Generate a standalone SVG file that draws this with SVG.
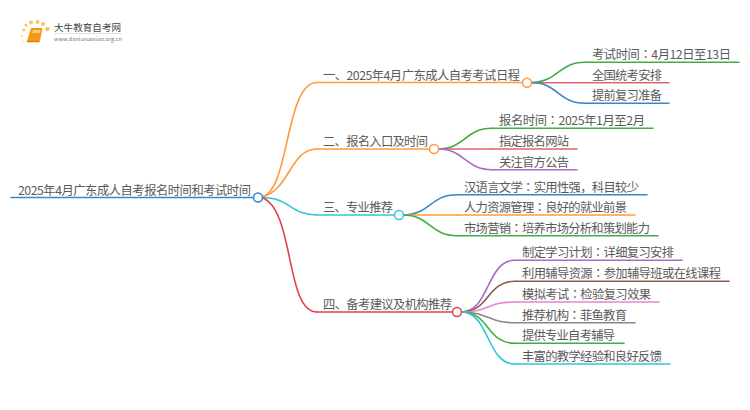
<svg xmlns="http://www.w3.org/2000/svg" width="750" height="410" viewBox="0 0 750 410">
<style>
text{font-family:"Noto Sans CJK SC","Liberation Sans",sans-serif;font-size:12.300px;fill:#5a5a5a}
.p{font-family:"Noto Sans CJK TC","Liberation Sans",sans-serif}
.c,.u{fill:none;stroke-width:1.600;stroke-linecap:round}
.d{fill:#fff;stroke-width:1.500}
.blue{stroke:#3a86c8}.orange{stroke:#ff9a3c}.cyan{stroke:#2fc6dc}.red{stroke:#e2414a}.green{stroke:#43ad43}.purple{stroke:#a56cc8}.brown{stroke:#8e5a50}.pink{stroke:#e884cc}.gray{stroke:#888}.rose{stroke:#e0646c}
</style>
<rect width="750" height="410" fill="#fff"/>
<g id="logo">
<g fill="#fbc65a"><circle cx="24" cy="30" r="1.500"/><circle cx="26" cy="25" r="1.600"/><circle cx="31" cy="22.500" r="2"/><circle cx="37.500" cy="22" r="2"/><circle cx="43" cy="24" r="2"/><circle cx="47.500" cy="29" r="2.300"/><circle cx="22" cy="36" r="1.200" opacity=".6"/><circle cx="23.500" cy="42" r="1.200" opacity=".4"/></g>
<path d="M31 28H42.500L40 41H27Z" fill="#f59a16"/>
<path d="M33 30H40.500L40 33H32.500Z" fill="#fdd27a"/>
<path d="M27 41.500H39.500" fill="none" stroke="#e07a10" stroke-width="1.500"/>
<text x="54" y="31" style="font-size:9.500px;fill:#444" textLength="67">大牛教育自考网</text>
<path d="M54 33.500H121" stroke="#ccc" stroke-width=".6"/>
<text x="54" y="41" style="font-size:5.500px;fill:#777" textLength="68">www.daniuxuexiao.org.cn</text>
</g>
<g id="connectors">
<path class="c orange" d="M262 197C290 190 285 82.500 317 82.500"/>
<path class="c orange" d="M262 197C290 190 290 149 317 149"/>
<path class="c cyan" d="M262 197.500C290 197.500 290 215 317 215"/>
<path class="c red" d="M262 197.500C295 210 285 312 317 312"/>
<path class="c green" d="M531 82.500C558 82.500 558 62.300 585 62.300"/>
<path class="c rose" d="M531 82.700H585"/>
<path class="c blue" d="M531 82.500C558 82.500 558 103.300 585 103.300"/>
<path class="c green" d="M438 149C465 149 465 128.300 492 128.300"/>
<path class="c rose" d="M438 149H492"/>
<path class="c purple" d="M438 149C465 149 465 169.700 492 169.700"/>
<path class="c blue" d="M403 215C430 215 430 194.700 457 194.700"/>
<path class="c orange" d="M403 215H457"/>
<path class="c green" d="M403 215C430 215 430 235.700 457 235.700"/>
<path class="c purple" d="M461 312C490 312 486 260.300 515 260.300"/>
<path class="c brown" d="M461 312C490 312 486 281.300 515 281.300"/>
<path class="c pink" d="M461 312C490 312 486 302 515 302"/>
<path class="c gray" d="M461 312C490 312 486 322.700 515 322.700"/>
<path class="c green" d="M461 312C490 312 486 343.300 515 343.300"/>
<path class="c cyan" d="M461 312C490 312 486 364 515 364"/>
</g>
<g id="root"><text x="18" y="194.500" textLength="233">2025年4月广东成人自考报名时间和考试时间</text><path class="u blue" d="M11 197.500H253.500"/><circle class="d blue" cx="258" cy="197.500" r="4.500"/></g>
<g id="b1"><text x="323" y="79.500" textLength="197">一、2025年4月广东成人自考考试日程</text><path class="u orange" d="M317 82.500H522.500"/><circle class="d orange" cx="527" cy="82.700" r="4.500"/></g>
<g id="b2"><text x="323" y="146" textLength="105">二、报名入口及时间</text><path class="u orange" d="M317 149H429.500"/><circle class="d orange" cx="434" cy="149" r="4.500"/></g>
<g id="b3"><text x="323" y="212" textLength="70">三、专业推荐</text><path class="u cyan" d="M317 215H394.500"/><circle class="d cyan" cx="399" cy="215" r="4.500"/></g>
<g id="b4"><text x="323" y="309" textLength="129">四、备考建议及机构推荐</text><path class="u red" d="M317 312H452.500"/><circle class="d red" cx="457" cy="312" r="4.500"/></g>
<g id="l11"><text x="592" y="59" textLength="139">考试时间<tspan class="p">：</tspan>4月12日至13日</text><path class="u green" d="M585 62.300H739"/></g>
<g id="l12"><text x="592" y="79.500" textLength="70">全国统考安排</text><path class="u rose" d="M585 82.700H669"/></g>
<g id="l13"><text x="592" y="100" textLength="70">提前复习准备</text><path class="u blue" d="M585 103.300H669"/></g>
<g id="l21"><text x="499" y="125" textLength="146">报名时间<tspan class="p">：</tspan>2025年1月至2月</text><path class="u green" d="M492 128.300H653"/></g>
<g id="l22"><text x="499" y="146" textLength="70">指定报名网站</text><path class="u rose" d="M492 149H577"/></g>
<g id="l23"><text x="499" y="166.500" textLength="70">关注官方公告</text><path class="u purple" d="M492 169.700H577"/></g>
<g id="l31"><text x="464" y="191.500" textLength="175">汉语言文学<tspan class="p">：</tspan>实用性强，科目较少</text><path class="u blue" d="M457 194.700H647"/></g>
<g id="l32"><text x="464" y="212" textLength="163">人力资源管理<tspan class="p">：</tspan>良好的就业前景</text><path class="u orange" d="M457 215H635"/></g>
<g id="l33"><text x="464" y="232.500" textLength="186">市场营销<tspan class="p">：</tspan>培养市场分析和策划能力</text><path class="u green" d="M457 235.700H658"/></g>
<g id="l41"><text x="522" y="257" textLength="152">制定学习计划<tspan class="p">：</tspan>详细复习安排</text><path class="u purple" d="M515 260.300H682"/></g>
<g id="l42"><text x="522" y="278" textLength="199">利用辅导资源<tspan class="p">：</tspan>参加辅导班或在线课程</text><path class="u brown" d="M515 281.300H729"/></g>
<g id="l43"><text x="522" y="298.500" textLength="129">模拟考试<tspan class="p">：</tspan>检验复习效果</text><path class="u pink" d="M515 302H659"/></g>
<g id="l44"><text x="522" y="319.500" textLength="105">推荐机构<tspan class="p">：</tspan>菲鱼教育</text><path class="u gray" d="M515 322.700H635"/></g>
<g id="l45"><text x="522" y="340" textLength="93">提供专业自考辅导</text><path class="u green" d="M515 343.300H624"/></g>
<g id="l46"><text x="522" y="361" textLength="140">丰富的教学经验和良好反馈</text><path class="u cyan" d="M515 364H670"/></g>
</svg>
